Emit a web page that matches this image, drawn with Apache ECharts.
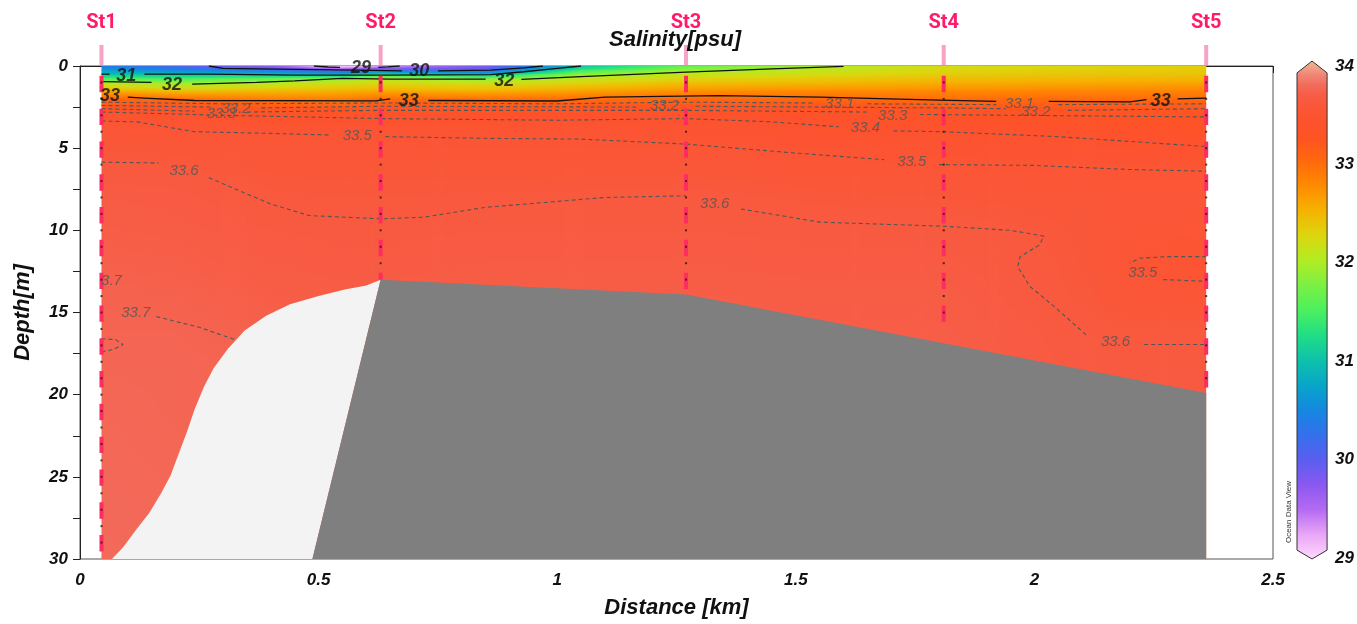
<!DOCTYPE html>
<html>
<head>
<meta charset="utf-8">
<script src="https://cdn.jsdelivr.net/npm/echarts@6/dist/echarts.min.js"></script>
<style>
html, body { margin: 0; padding: 0; background: #fff; }
#chart { width: 1357px; height: 624px; }
</style>
</head>
<body>
<div id="chart"></div>
<script>
// ---- Salinity section: gridded profiles along the transect ----
const columnKm = [0.045, 0.2, 0.4, 0.55, 0.63, 0.85, 1.05, 1.27, 1.55, 1.81, 2.05, 2.2, 2.36];
const depthM = [0, 0.25, 0.5, 0.75, 1, 1.5, 2, 2.3, 2.6, 3, 3.5, 4, 5, 6, 7, 8, 10, 12, 14, 16, 18, 20, 25, 30];
// salinity[column][depth] in psu
const salinity = [
  [30.4, 30.7, 31.0, 31.5, 32.0, 32.55, 33.05, 33.15, 33.27, 33.43, 33.51, 33.53, 33.56, 33.6, 33.62, 33.64, 33.66, 33.68, 33.7, 33.71, 33.72, 33.73, 33.74, 33.75],
  [30.1, 30.5, 31.0, 31.45, 31.85, 32.4, 33.0, 33.15, 33.28, 33.4, 33.46, 33.5, 33.55, 33.58, 33.61, 33.63, 33.65, 33.67, 33.69, 33.71, 33.72, 33.72, 33.73, 33.74],
  [29.7, 30.3, 31.0, 31.6, 32.0, 32.45, 32.85, 33.05, 33.2, 33.35, 33.43, 33.5, 33.53, 33.55, 33.57, 33.59, 33.62, 33.64, 33.66, 33.68, 33.7, 33.7, 33.7, 33.7],
  [28.9, 30.0, 30.9, 31.8, 32.15, 32.5, 32.85, 33.03, 33.2, 33.34, 33.42, 33.48, 33.52, 33.54, 33.56, 33.58, 33.61, 33.63, 33.65, 33.67, 33.68, 33.68, 33.68, 33.68],
  [29.3, 30.3, 31.3, 32.05, 32.2, 32.55, 32.97, 33.12, 33.25, 33.35, 33.43, 33.47, 33.52, 33.54, 33.56, 33.58, 33.61, 33.63, 33.65, 33.66, 33.67, 33.67, 33.67, 33.67],
  [29.8, 30.1, 31.0, 31.75, 32.15, 32.5, 32.95, 33.1, 33.25, 33.36, 33.42, 33.47, 33.51, 33.54, 33.56, 33.59, 33.62, 33.64, 33.66, 33.67, 33.67, 33.67, 33.67, 33.67],
  [31.0, 31.4, 31.85, 32.1, 32.25, 32.6, 32.98, 33.12, 33.25, 33.36, 33.42, 33.47, 33.51, 33.54, 33.57, 33.59, 33.62, 33.64, 33.66, 33.67, 33.67, 33.67, 33.67, 33.67],
  [31.6, 31.9, 32.1, 32.25, 32.4, 32.7, 33.02, 33.15, 33.28, 33.37, 33.43, 33.46, 33.51, 33.54, 33.57, 33.6, 33.62, 33.64, 33.66, 33.67, 33.67, 33.67, 33.67, 33.67],
  [31.98, 32.1, 32.2, 32.35, 32.45, 32.75, 33.0, 33.15, 33.26, 33.34, 33.39, 33.42, 33.48, 33.52, 33.55, 33.57, 33.61, 33.63, 33.65, 33.66, 33.67, 33.67, 33.67, 33.67],
  [32.2, 32.25, 32.32, 32.42, 32.52, 32.75, 32.97, 33.1, 33.22, 33.3, 33.36, 33.4, 33.46, 33.5, 33.53, 33.56, 33.61, 33.63, 33.65, 33.66, 33.67, 33.67, 33.67, 33.67],
  [32.25, 32.3, 32.37, 32.46, 32.55, 32.78, 32.99, 33.1, 33.2, 33.28, 33.34, 33.38, 33.44, 33.49, 33.52, 33.54, 33.57, 33.58, 33.59, 33.61, 33.62, 33.62, 33.62, 33.62],
  [32.28, 32.32, 32.38, 32.47, 32.56, 32.78, 32.99, 33.1, 33.19, 33.27, 33.32, 33.36, 33.42, 33.48, 33.51, 33.52, 33.52, 33.5, 33.53, 33.58, 33.61, 33.62, 33.62, 33.62],
  [32.3, 32.33, 32.4, 32.48, 32.58, 32.8, 33.0, 33.1, 33.18, 33.25, 33.3, 33.34, 33.4, 33.47, 33.51, 33.52, 33.51, 33.46, 33.52, 33.58, 33.61, 33.62, 33.62, 33.62]
];

// ---- Stations ----
const stationNames = ['St1', 'St2', 'St3', 'St4', 'St5'];
const stationKm = [0.045, 0.63, 1.27, 1.81, 2.36];
const stationBottomM = [30, 13.0, 13.9, 16.0, 19.9];
const sampleDepthsM = [1, 2, 3, 4, 5, 6, 7, 8, 9, 10, 11, 12, 13, 14, 15, 16, 17, 18, 19, 20, 21, 22, 23, 24, 25, 26, 27, 28, 29];

// ---- Seabed and area without data (km, m) ----
const seabed = [[0.487, 30], [0.63, 13.0], [1.27, 13.9], [2.36, 19.9], [2.36, 30]];
const noDataArea = [[0.067, 30], [0.09, 29.3], [0.118, 28.2], [0.145, 27.2], [0.17, 26.0], [0.19, 24.9], [0.208, 23.5],
  [0.225, 22.2], [0.24, 20.9], [0.26, 19.5], [0.28, 18.4], [0.31, 17.2], [0.345, 16.1], [0.39, 15.2], [0.44, 14.5],
  [0.5, 14.0], [0.555, 13.6], [0.6, 13.35], [0.63, 13.0], [0.487, 30]];

// ---- Isohalines (km, m); each level is a list of segments ----
const iso29 = [[[0.49, 0.0], [0.52, 0.06], [0.545, 0.08]], [[0.625, 0.08], [0.645, 0.05], [0.67, 0.0]]];
const iso30 = [[[0.27, 0.0], [0.3, 0.15], [0.45, 0.2], [0.58, 0.25], [0.675, 0.3]], [[0.75, 0.3], [0.86, 0.25], [0.93, 0.12], [0.97, 0.0]]];
const iso31 = [[[0.045, 0.5], [0.062, 0.5]], [[0.135, 0.5], [0.27, 0.5], [0.45, 0.55], [0.63, 0.55], [0.86, 0.52], [0.93, 0.35], [1.0, 0.15], [1.05, 0.0]]];
const iso32 = [[[0.045, 0.95], [0.15, 1.0]], [[0.235, 1.1], [0.37, 1.0], [0.45, 0.9], [0.55, 0.75], [0.65, 0.8], [0.85, 0.8]],
  [[0.925, 0.82], [1.05, 0.65], [1.27, 0.37], [1.45, 0.18], [1.6, 0.02]]];
const iso33 = [[[0.1, 1.9], [0.135, 1.95], [0.24, 2.1], [0.62, 2.12], [0.65, 2.0]],
  [[0.73, 2.1], [1.0, 2.13], [1.1, 1.9], [1.34, 1.8], [1.55, 1.9], [1.8, 2.08], [1.92, 2.15]],
  [[2.03, 2.15], [2.2, 2.18], [2.235, 2.05]], [[2.3, 2.0], [2.36, 1.95]]];
const iso331 = [[[0.045, 2.2], [0.3, 2.3], [0.63, 2.25], [1.0, 2.3], [1.27, 2.2], [1.54, 2.25]], [[1.65, 2.3], [1.92, 2.35]], [[2.05, 2.35], [2.36, 2.3]]];
const iso332 = [[[0.045, 2.4], [0.275, 2.5]], [[0.38, 2.55], [0.63, 2.45], [1.165, 2.5]], [[1.29, 2.45], [1.81, 2.55], [1.94, 2.6]], [[2.07, 2.7], [2.36, 2.6]]];
const iso333 = [[[0.045, 2.6], [0.24, 2.75]], [[0.35, 2.8], [0.63, 2.7], [1.27, 2.7], [1.65, 2.8]], [[1.76, 2.95], [2.36, 3.1]]];
const iso334 = [[[0.045, 2.8], [0.3, 3.0], [0.63, 3.2], [1.0, 3.3], [1.27, 3.2], [1.45, 3.4], [1.59, 3.7]], [[1.705, 3.95], [1.81, 4.0], [2.05, 4.3], [2.36, 4.9]]];
const iso335 = [[[0.045, 3.35], [0.12, 3.4], [0.24, 4.0], [0.4, 4.1], [0.525, 4.2]], [[0.64, 4.3], [0.85, 4.4], [1.05, 4.45], [1.27, 4.75], [1.5, 5.3], [1.685, 5.7]],
  [[1.8, 6.0], [2.0, 6.05], [2.2, 6.3], [2.36, 6.4]],
  [[2.36, 11.6], [2.28, 11.6], [2.22, 11.7], [2.2, 12.0]], [[2.27, 13.0], [2.36, 13.1]]];
const iso336 = [[[0.045, 5.85], [0.165, 5.9]], [[0.27, 6.8], [0.4, 8.4], [0.48, 9.1], [0.63, 9.3], [0.72, 9.2], [0.85, 8.6], [1.1, 8.0], [1.27, 7.9]],
  [[1.385, 8.7], [1.55, 9.5], [1.81, 9.75], [1.95, 10.0], [2.02, 10.35], [2.01, 10.9], [1.97, 11.6], [1.965, 12.2], [1.99, 13.4], [2.04, 14.6], [2.11, 16.4]],
  [[2.23, 16.95], [2.36, 16.95]]];
const iso337 = [[[0.16, 15.25], [0.25, 15.9], [0.32, 16.6], [0.38, 16.8]],
  [[0.045, 16.6], [0.075, 16.65], [0.09, 16.95], [0.07, 17.25], [0.045, 17.4]]];

// Isohaline labels (km, m, text)
const majorLabels = [[0.097, 0.6, '31'], [0.193, 1.15, '32'], [0.589, 0.12, '29'], [0.711, 0.32, '30'], [0.889, 0.92, '32'],
  [0.063, 1.85, '33'], [0.689, 2.13, '33'], [2.265, 2.13, '33']];
const minorLabels = [[0.327, 2.62, '33.2'], [0.296, 2.93, '33.3'], [1.225, 2.44, '33.2'], [1.592, 2.32, '33.1'], [1.969, 2.32, '33.1'],
  [2.003, 2.8, '33.2'], [1.703, 3.05, '33.3'], [1.646, 3.78, '33.4'], [0.581, 4.27, '33.5'], [1.743, 5.85, '33.5'],
  [0.218, 6.4, '33.6'], [1.33, 8.4, '33.6'], [2.227, 12.56, '33.5'], [2.17, 16.8, '33.6'], [0.117, 15.0, '33.7'], [0.066, 13.05, '3.7']];

// ---- Colour scale ----
const colorbarTicks = [29, 30, 31, 32, 33, 34];
const paletteValues = [29.0, 29.25, 29.5, 29.75, 30.0, 30.25, 30.5, 30.75, 31.0, 31.25, 31.5, 31.75, 32.0, 32.25, 32.5, 32.75, 33.0, 33.2, 33.4, 33.55, 33.65, 33.75, 33.85, 34.0];
const paletteColors = ['#ffd9ff', '#e9a6f6', '#b46af2', '#8a58f0', '#5a5ef0', '#3470ec', '#1488e0', '#08a6c8', '#0ec2aa', '#20de86', '#4cf05e', '#7cf044',
  '#b2ec22', '#dcd60e', '#f6b200', '#ff8a00', '#ff680e', '#ff5420', '#fd522e', '#fa5739', '#f75c45', '#f36a5a', '#f08474', '#f2ba94'];

function hexToRgb(h) {
  return [parseInt(h.slice(1, 3), 16), parseInt(h.slice(3, 5), 16), parseInt(h.slice(5, 7), 16)];
}
const paletteRgb = paletteColors.map(hexToRgb);
function colorFor(v) {
  const n = paletteValues.length;
  if (v <= paletteValues[0]) return paletteColors[0];
  if (v >= paletteValues[n - 1]) return paletteColors[n - 1];
  let k = 0;
  while (k < n - 2 && v > paletteValues[k + 1]) k++;
  const t = (v - paletteValues[k]) / (paletteValues[k + 1] - paletteValues[k]);
  const a = paletteRgb[k], b = paletteRgb[k + 1];
  return 'rgb(' + Math.round(a[0] + (b[0] - a[0]) * t) + ',' + Math.round(a[1] + (b[1] - a[1]) * t) + ',' + Math.round(a[2] + (b[2] - a[2]) * t) + ')';
}

// ---- Series construction ----
const FONT = 'Liberation Sans, Arial, sans-serif';
const cellData = [];
for (let i = 0; i < columnKm.length - 1; i++) {
  for (let j = 0; j < depthM.length - 1; j++) {
    cellData.push([columnKm[i], depthM[j], columnKm[i + 1], depthM[j + 1], i, j]);
  }
}

// each cell is shaded with narrow vertical strips carrying a vertical colour gradient
const fieldSeries = {
  type: 'custom', xAxisIndex: 0, yAxisIndex: 0, data: cellData, encode: { x: [0, 2], y: [1, 3] },
  clip: true, z: 1, silent: true, progressive: 0,
  renderItem: function (params, api) {
    const i = api.value(4), j = api.value(5);
    const a = api.coord([api.value(0), api.value(1)]);
    const b = api.coord([api.value(2), api.value(3)]);
    const v00 = salinity[i][j], v10 = salinity[i + 1][j], v01 = salinity[i][j + 1], v11 = salinity[i + 1][j + 1];
    const w = b[0] - a[0], h = b[1] - a[1];
    const nx = Math.max(1, Math.ceil(w / 2));
    const ns = Math.min(10, Math.max(2, Math.ceil(h / 5)));
    const last = i === columnKm.length - 2;
    const children = [];
    for (let k = 0; k < nx; k++) {
      const t = (k + 0.5) / nx;
      const top = v00 + (v10 - v00) * t, bot = v01 + (v11 - v01) * t;
      const stops = [];
      for (let s = 0; s <= ns; s++) {
        const u = s / ns;
        stops.push({ offset: u, color: colorFor(top + (bot - top) * u) });
      }
      const extra = (last && k === nx - 1) ? 0 : 0.8;
      children.push({
        type: 'rect',
        shape: { x: a[0] + w * k / nx, y: a[1], width: w / nx + extra, height: h + 0.8 },
        style: { fill: { type: 'linear', x: 0, y: 0, x2: 0, y2: 1, colorStops: stops } }
      });
    }
    return { type: 'group', children: children };
  }
};

function polygonSeries(points, fill, z) {
  return {
    type: 'custom', xAxisIndex: 0, yAxisIndex: 0, data: [[points[0][0], points[0][1]]], clip: true, z: z, silent: true,
    renderItem: function (params, api) {
      return { type: 'polygon', shape: { points: points.map(p => api.coord(p)), smooth: 0 }, style: { fill: fill } };
    }
  };
}

function isoSeries(segments, style) {
  return segments.map(seg => ({
    type: 'line', xAxisIndex: 0, yAxisIndex: 0, data: seg, symbol: 'none', silent: true, z: 3, clip: true,
    lineStyle: style
  }));
}
const solidStyle = { color: '#111', width: 1.3 };
const dashStyle = { color: '#4e5858', width: 1.1, type: [4, 3] };

function labelSeries(items, lab, z) {
  return {
    type: 'scatter', xAxisIndex: 0, yAxisIndex: 0, data: items, symbolSize: 1, silent: true, z: z,
    itemStyle: { color: 'rgba(0,0,0,0)' },
    label: Object.assign({ show: true, position: 'inside', formatter: p => p.value[2], fontFamily: FONT, fontStyle: 'italic' }, lab)
  };
}

const stationLineSeries = stationKm.map((km, i) => ({
  type: 'line', xAxisIndex: 0, yAxisIndex: 0, data: [[km, 0.6], [km, stationBottomM[i]]], symbol: 'none', silent: true, z: 5,
  lineStyle: { color: '#ff2c62', width: 4, type: [16.4, 16.4] }
}));

const sampleDots = [];
stationKm.forEach((km, i) => {
  sampleDepthsM.forEach(d => { if (d < stationBottomM[i]) sampleDots.push([km, d]); });
});

const stationMarkerSeries = {
  type: 'custom', xAxisIndex: 0, yAxisIndex: 0, clip: false, silent: true, z: 8,
  data: stationKm.map((km, i) => [km, 0, i]),
  renderItem: function (params, api) {
    const p = api.coord([api.value(0), 0]);
    const name = stationNames[api.value(2)];
    return {
      type: 'group', children: [
        { type: 'rect', shape: { x: p[0] - 2, y: p[1] - 21, width: 4, height: 20 }, style: { fill: '#f7a3c6' } },
        { type: 'text', x: p[0], y: p[1] - 43,
          style: { text: name, fill: '#ff1a6a', font: 'bold 20px Roboto, Arial, sans-serif', align: 'center', verticalAlign: 'middle', textAlign: 'center', textVerticalAlign: 'middle' } }
      ]
    };
  }
};

const colorbarSeries = {
  type: 'custom', xAxisIndex: 1, yAxisIndex: 1, data: [[0.5, 31.5]], clip: false, silent: true, z: 2,
  renderItem: function (params, api) {
    const L = api.coord([0, 34])[0], R = api.coord([1, 34])[0], C = (L + R) / 2;
    const y = v => api.coord([0, v])[1];
    const lo = paletteValues[0], hi = paletteValues[paletteValues.length - 1];
    const stops = paletteValues.map((v, k) => ({ offset: (hi - v) / (hi - lo), color: paletteColors[k] }));
    return {
      type: 'polygon',
      shape: { points: [[L, y(33.93)], [C, y(34.05)], [R, y(33.93)], [R, y(29.08)], [C, y(28.99)], [L, y(29.08)]] },
      style: { fill: { type: 'linear', x: 0, y: 0, x2: 0, y2: 1, colorStops: stops }, stroke: '#333', lineWidth: 1 }
    };
  }
};

const series = [fieldSeries]
  .concat(isoSeries(iso29, solidStyle), isoSeries(iso30, solidStyle), isoSeries(iso31, solidStyle), isoSeries(iso32, solidStyle), isoSeries(iso33, solidStyle))
  .concat(isoSeries(iso331, dashStyle), isoSeries(iso332, dashStyle), isoSeries(iso333, dashStyle), isoSeries(iso334, dashStyle),
    isoSeries(iso335, dashStyle), isoSeries(iso336, dashStyle), isoSeries(iso337, dashStyle))
  .concat([polygonSeries(noDataArea, '#f3f3f3', 4), polygonSeries(seabed, '#7f7f7f', 4)])
  .concat(stationLineSeries)
  .concat([{
    type: 'scatter', xAxisIndex: 0, yAxisIndex: 0, data: sampleDots, symbol: 'rect', symbolSize: 2, silent: true, z: 6,
    itemStyle: { color: '#2a1414' }
  }])
  .concat([
    labelSeries(minorLabels, { fontSize: 15, color: '#4e5858' }, 7),
    labelSeries(majorLabels, { fontSize: 18, fontWeight: 'bold', color: '#111' }, 7),
    stationMarkerSeries, colorbarSeries
  ]);

const axisFont = { fontFamily: FONT, fontStyle: 'italic', fontWeight: 'bold', fontSize: 17, color: '#111' };
const nameFont = { fontFamily: FONT, fontStyle: 'italic', fontWeight: 'bold', fontSize: 22, color: '#111' };

const chart = echarts.init(document.getElementById('chart'), null, { renderer: 'canvas' });
chart.setOption({
  animation: false,
  backgroundColor: '#fff',
  grid: [
    { left: 80, top: 66, right: 84, bottom: 65, show: true, borderColor: '#555', borderWidth: 1, backgroundColor: 'transparent' },
    { left: 1297, top: 66, width: 34, height: 492, show: false }
  ],
  xAxis: [
    {
      type: 'value', gridIndex: 0, min: 0, max: 2.5, interval: 0.5,
      name: 'Distance [km]', nameLocation: 'middle', nameGap: 38, nameTextStyle: nameFont,
      axisLine: { show: true, lineStyle: { color: '#222', width: 1 } },
      axisTick: { show: true, length: 7, lineStyle: { color: '#222' } },
      minorTick: { show: true, splitNumber: 2, length: 7, lineStyle: { color: '#222' } },
      splitLine: { show: false },
      axisLabel: Object.assign({ margin: 13 }, axisFont)
    },
    { type: 'value', gridIndex: 1, min: 0, max: 1, show: false }
  ],
  yAxis: [
    {
      type: 'value', gridIndex: 0, min: 0, max: 30, interval: 5, inverse: true,
      name: 'Depth[m]', nameLocation: 'middle', nameGap: 46, nameTextStyle: nameFont,
      axisLine: { show: true, lineStyle: { color: '#222', width: 1 } },
      axisTick: { show: true, length: 7, lineStyle: { color: '#222' } },
      minorTick: { show: true, splitNumber: 2, length: 7, lineStyle: { color: '#222' } },
      splitLine: { show: false },
      axisLabel: Object.assign({ margin: 12 }, axisFont)
    },
    {
      type: 'value', gridIndex: 1, min: 29, max: 34, interval: 1, position: 'right',
      axisLine: { show: false }, axisTick: { show: false }, splitLine: { show: false },
      axisLabel: Object.assign({ margin: 8 }, axisFont)
    }
  ],
  graphic: [
    { type: 'text', x: 675, y: 40, z: 10,
      style: { text: 'Salinity[psu]', font: 'italic bold 22px ' + FONT, fill: '#111', align: 'center', verticalAlign: 'middle', textAlign: 'center', textVerticalAlign: 'middle' } },
    { type: 'text', x: 1289, y: 512, rotation: Math.PI / 2, z: 10,
      style: { text: 'Ocean Data View', font: '8px ' + FONT, fill: '#333', align: 'center', verticalAlign: 'middle', textAlign: 'center', textVerticalAlign: 'middle' } }
  ],
  series: series
});
</script>
</body>
</html>
